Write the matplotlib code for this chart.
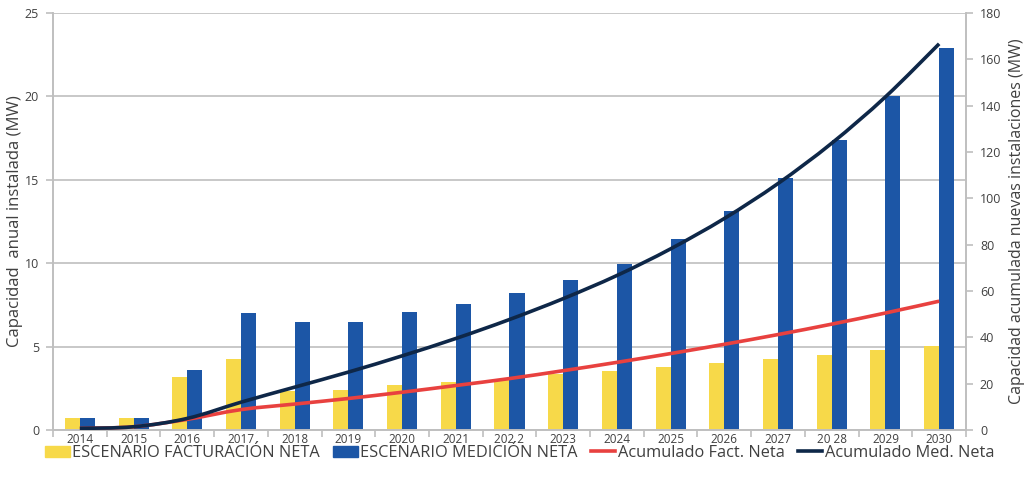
import matplotlib
matplotlib.use("Agg")
import matplotlib.pyplot as plt
import numpy as np
from matplotlib.path import Path
from matplotlib.patches import PathPatch, Patch
from matplotlib.lines import Line2D
from matplotlib import font_manager

years = ["2014", "2015", "2016", "2017", "2018", "2019", "2020", "2021", "2022",
         "2023", "2024", "2025", "2026", "2027", "2028", "2029", "2030"]
year_labels = ["2014", "2015", "2016", "2017", "2018", "2019", "2020", "2021", "202 2",
               "2023", "2024", "2025", "2026", "2027", "20 28", "2029", "2030"]
fact_neta = [0.7, 0.7, 3.2, 4.25, 2.35, 2.4, 2.7, 2.9, 3.0,
             3.35, 3.55, 3.8, 4.0, 4.25, 4.5, 4.8, 5.05]
med_neta = [0.7, 0.7, 3.6, 7.0, 6.45, 6.5, 7.05, 7.55, 8.2,
            9.0, 9.95, 11.45, 13.15, 15.1, 17.4, 20.0, 22.9]
acum_fact = [0.7, 1.4, 4.6, 8.8, 11.2, 13.6, 16.3, 19.2, 22.2,
             25.6, 29.2, 33.0, 37.0, 41.2, 45.7, 50.5, 55.6]
acum_med = [0.7, 1.4, 5.0, 12.0, 18.5, 25.0, 32.0, 39.5, 47.7,
            56.7, 66.7, 78.2, 91.3, 106.4, 123.8, 143.8, 166.7]

YELLOW = "#F7D949"
BLUE = "#1C56A6"
RED = "#E8413F"
NAVY = "#0E2748"
GRID = "#BFBFBF"
TXT = "#404040"

plt.rcParams['font.family'] = ['Open Sans', 'DejaVu Sans']
installed = {f.name for f in font_manager.fontManager.ttflist}
narrow = 'Liberation Sans Narrow' if 'Liberation Sans Narrow' in installed else 'Open Sans'

fig = plt.figure(figsize=(10.29, 4.91), dpi=100)
ax = fig.add_axes([53/1029, 1-430/491, (966-53)/1029, (430-13)/491])
ax2 = ax.twinx()

x = np.arange(len(years))
w = 0.28
ax.bar(x - w/2, fact_neta, w, color=YELLOW, zorder=2)
ax.bar(x + w/2, med_neta, w, color=BLUE, zorder=2)


def smooth_path(xs, ys, t=1/6):
    xs = np.asarray(xs, float)
    ys = np.asarray(ys, float)
    pts = np.column_stack([xs, ys])
    n = len(pts)
    verts = [pts[0]]
    codes = [Path.MOVETO]
    for i in range(n - 1):
        p0 = pts[i - 1] if i > 0 else pts[i]
        p1 = pts[i]
        p2 = pts[i + 1]
        p3 = pts[i + 2] if i + 2 < n else pts[i + 1]
        c1 = p1 + (p2 - p0) * t
        c2 = p2 - (p3 - p1) * t
        verts += [c1, c2, p2]
        codes += [Path.CURVE4] * 3
    return Path(verts, codes)


ax2.add_patch(PathPatch(smooth_path(x, acum_fact), fill=False, edgecolor=RED, lw=2.6, zorder=3))
ax2.add_patch(PathPatch(smooth_path(x, acum_med), fill=False, edgecolor=NAVY, lw=2.6, zorder=4))

ax.set_xlim(-0.5, len(years) - 0.5)
ax.set_ylim(0, 25)
ax2.set_ylim(0, 180)
ax.set_yticks(np.arange(0, 26, 5))
ax2.set_yticks(np.arange(0, 181, 20))
ax.set_xticks(x)
ax.set_xticklabels(year_labels)
ax.set_xticks(np.arange(-0.5, len(years), 1), minor=True)

ax.grid(axis='y', color=GRID, lw=1.2, zorder=0)
ax.set_axisbelow(True)

for a in (ax, ax2):
    a.spines['top'].set_visible(False)
    for s in ['left', 'right', 'bottom']:
        a.spines[s].set_color(GRID)
        a.spines[s].set_linewidth(1.2)

ax.tick_params(axis='x', which='major', length=0, pad=2, labelsize=8.5, labelcolor=TXT)
ax.tick_params(axis='x', which='minor', length=5, color=GRID, width=1.2, direction='out')
ax.tick_params(axis='y', length=5, color=GRID, width=1.2, labelsize=9, labelcolor=TXT, pad=5)
ax2.tick_params(axis='y', length=5, color=GRID, width=1.2, labelsize=9, labelcolor=TXT, pad=5)

ax.set_ylabel("Capacidad  anual instalada (MW)", fontsize=12, color=TXT)
ax.yaxis.set_label_coords((23-53)/913, 0.5)
ax2.set_ylabel("Capacidad acumulada nuevas instalaciones (MW)", fontsize=11.5, color=TXT,
               rotation=90)
ax2.yaxis.set_label_coords((1009-53)/913, 0.5)

handles = [Patch(color=YELLOW), Patch(color=BLUE),
           Line2D([], [], color=RED, lw=2.6), Line2D([], [], color=NAVY, lw=2.6)]
labels = ["ESCENARIO FACTURACIÓN NETA", "ESCENARIO MEDICIÓN NETA",
          "Acumulado Fact. Neta", "Acumulado Med. Neta"]
fig.legend(handles, labels, loc='center', bbox_to_anchor=(0.505, 1-453/491), ncol=4,
           frameon=False, prop={'family': narrow, 'size': 11.8}, handlelength=1.5,
           handletextpad=0.15, columnspacing=0.8, labelcolor=TXT)

fig.savefig("out.png", dpi=100)
